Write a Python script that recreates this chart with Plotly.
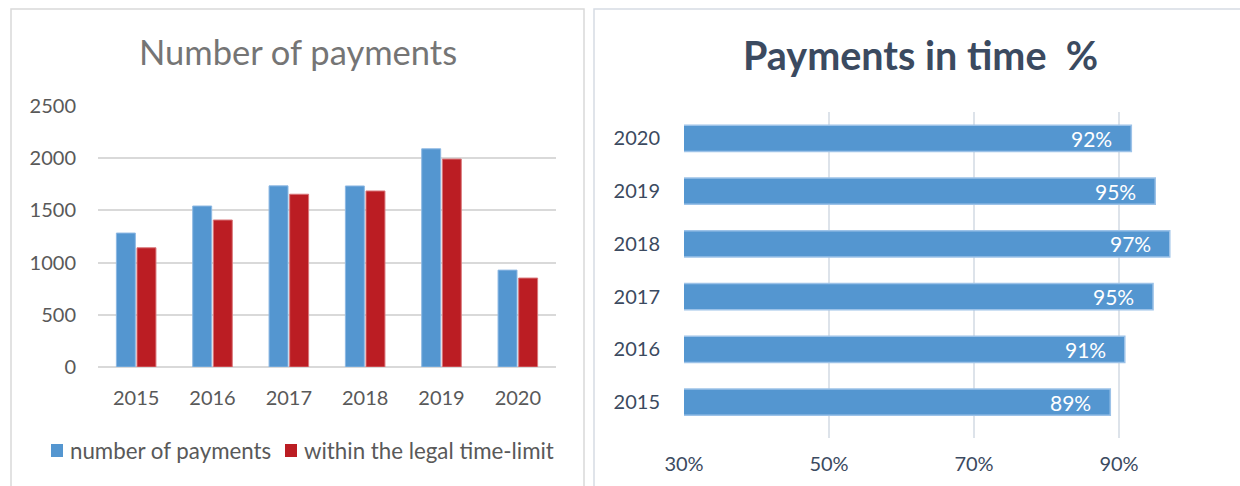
import plotly.graph_objects as go

W, H = 1240, 486
years = ["2015", "2016", "2017", "2018", "2019", "2020"]
num_payments = [1283, 1542, 1735, 1734, 2090, 928]
within_limit = [1142, 1408, 1655, 1686, 1992, 852]
series_names = ["number of payments", "within the legal time-limit"]

pct_years = ["2015", "2016", "2017", "2018", "2019", "2020"]
pct_in_time = [0.888, 0.908, 0.947, 0.970, 0.950, 0.917]
pct_ticks = [0.3, 0.5, 0.7, 0.9]
pct_tick_labels = ["30%", "50%", "70%", "90%"]

FONT = "Lato"
GRAY = "#595959"
SLATE = "#3B4A60"
BLUE = "#5496D0"
RED = "#BB1D23"


def px_x(p):
    return p / W


def px_y(p):
    return 1 - p / H


fig = go.Figure()
fig.add_trace(go.Bar(x=years, y=num_payments, name=series_names[0],
                     marker=dict(color=BLUE, line=dict(color="#8DB8E3", width=1)),
                     xaxis="x", yaxis="y"))
fig.add_trace(go.Bar(x=years, y=within_limit, name=series_names[1],
                     marker=dict(color=RED, line=dict(color="#D9777B", width=1)),
                     xaxis="x", yaxis="y"))
fig.add_trace(go.Bar(y=pct_years, x=pct_in_time, orientation="h", showlegend=False, width=0.5,
                     marker=dict(color=BLUE, line=dict(color="#9CC2E8", width=1.5)),
                     xaxis="x2", yaxis="y2"))

# value labels inside the percentage bars (category position given by index)
for i, v in enumerate(pct_in_time):
    fig.add_annotation(x=v, y=i, xref="x2", yref="y2", text=f"{round(v * 100)}%",
                       showarrow=False, xanchor="right", yanchor="middle", xshift=-17,
                       font=dict(size=21, color="white", family=FONT))

fig.update_layout(
    template="none",
    width=W, height=H,
    margin=dict(l=0, r=0, t=0, b=0, pad=0, autoexpand=False),
    paper_bgcolor="white", plot_bgcolor="white",
    font=dict(family=FONT, color=GRAY, size=20),
    barmode="group", bargap=0.46, bargroupgap=0.08,
    showlegend=False,
    xaxis=dict(domain=[px_x(98), px_x(556)], showgrid=False, showline=False, automargin=False,
               tickfont=dict(size=20, color=GRAY), ticks="", ticklabelstandoff=17),
    yaxis=dict(domain=[px_y(367), px_y(106)], range=[0, 2500], tickvals=[0, 500, 1000, 1500, 2000, 2500],
               gridcolor="#D9D9D9", gridwidth=1.5, zeroline=True, zerolinecolor="#D9D9D9", zerolinewidth=1.5,
               automargin=False,
               tickfont=dict(size=20, color=GRAY), ticks="", ticklabelstandoff=21, showline=False),
    xaxis2=dict(domain=[px_x(684), 1.0], range=[0.3, 0.3 + (W - 684) / 145 * 0.2],
                tickvals=pct_ticks, ticktext=pct_tick_labels, showgrid=True, gridcolor="#DDE3EA", gridwidth=1.5,
                zeroline=False, showline=False, anchor="y2", automargin=False,
                tickfont=dict(size=20, color=SLATE), ticks="", ticklabelstandoff=12),
    yaxis2=dict(domain=[px_y(438), px_y(112)], range=[-0.68, 5.5], type="category",
                categoryorder="array", categoryarray=pct_years, anchor="x2", automargin=False,
                showgrid=False, showline=False, tickfont=dict(size=20, color=SLATE),
                ticks="", ticklabelstandoff=23),
)

# panel borders
fig.add_shape(type="rect", xref="paper", yref="paper", x0=px_x(11), x1=px_x(584), y0=px_y(500), y1=px_y(9),
              line=dict(color="#D9D9D9", width=1.5), fillcolor="rgba(0,0,0,0)", layer="below")
fig.add_shape(type="rect", xref="paper", yref="paper", x0=px_x(594), x1=px_x(1260), y0=px_y(500), y1=px_y(9),
              line=dict(color="#D6DCE4", width=1.5), fillcolor="rgba(0,0,0,0)", layer="below")

# legend (manual, to match the original spacing)
legend_items = [(series_names[0], BLUE, 51), (series_names[1], RED, 285)]
for name, col, x0 in legend_items:
    fig.add_shape(type="rect", xref="paper", yref="paper", x0=px_x(x0), x1=px_x(x0 + 12),
                  y0=px_y(457), y1=px_y(444), fillcolor=col, line=dict(width=0))
    fig.add_annotation(text=name, xref="paper", yref="paper", x=px_x(x0 + 17), y=px_y(450),
                       showarrow=False, xanchor="left", yanchor="middle",
                       font=dict(size=22.3, color=GRAY, family=FONT))

fig.add_annotation(text="Number of payments", xref="paper", yref="paper", x=px_x(298), y=px_y(52),
                   showarrow=False, font=dict(size=34.5, color="#757575", family=FONT),
                   xanchor="center", yanchor="middle")
fig.add_annotation(text="<b>Payments in time  %</b>", xref="paper", yref="paper", x=px_x(920), y=px_y(54),
                   showarrow=False, font=dict(size=39.5, color=SLATE, family=FONT),
                   xanchor="center", yanchor="middle")

fig.write_html("out.html", config={"displayModeBar": False},
               post_script="document.body.style.margin='0';document.body.style.overflow='hidden';")
